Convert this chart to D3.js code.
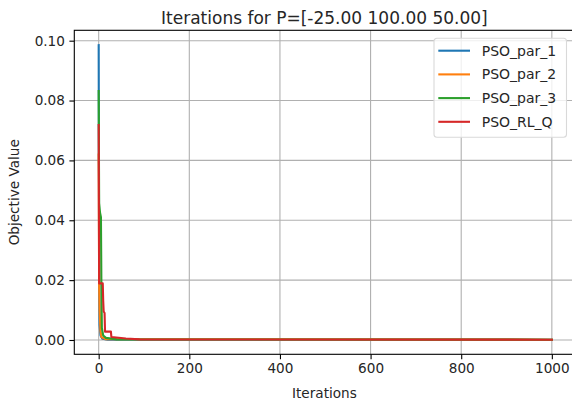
<!DOCTYPE html>
<html>
<head>
<meta charset="utf-8">
<script src="https://cdn.jsdelivr.net/npm/d3@7"></script>
<style>
  body { margin: 0; background: #fff; }
  svg { display: block; font-family: "DejaVu Sans", sans-serif; }
</style>
</head>
<body>
<div id="chart"></div>
<script>
// series names and colours (matplotlib tab10)
var seriesNames = ["PSO_par_1", "PSO_par_2", "PSO_par_3", "PSO_RL_Q"];
var colors = ["#1f77b4", "#ff7f0e", "#2ca02c", "#d62728"];

// iteration / objective value break points
var par1Iter = [0, 1, 2, 4, 8, 20, 1000];
var par1Vals = [0.0985, 0.020, 0.005, 0.0015, 0.0004, 0.0001, 0.0001];

var par2Iter = [0, 1, 2, 4, 6, 15, 1000];
var par2Vals = [0.062, 0.018, 0.010, 0.003, 0.001, 0.0003, 0.0001];

var par3Iter = [0, 1, 3, 5, 6, 7, 10, 16, 40, 1000];
var par3Vals = [0.0832, 0.0457, 0.0425, 0.041, 0.018, 0.004, 0.0015, 0.0007, 0.0002, 0.0001];

var rlIter = [0, 1, 9, 10, 11, 13, 14, 27, 28, 60, 90, 1000];
var rlVals = [0.0718, 0.0189, 0.0189, 0.013, 0.0095, 0.009, 0.0028, 0.0028, 0.001, 0.0005, 0.0002, 0.0001];

var xTicks = [0, 200, 400, 600, 800, 1000];
var yTicks = [0.00, 0.02, 0.04, 0.06, 0.08, 0.10];

var title = "Iterations for P=[-25.00 100.00 50.00]";

function draw(){
    var width = 572, height = 401;
    var margin = {top: 30.3, right: -2.5, bottom: 46.7, left: 74.3};
    var w = width - margin.left - margin.right,
        h = height - margin.top - margin.bottom;

    var series = [
        {name: seriesNames[0], iter: par1Iter, vals: par1Vals},
        {name: seriesNames[1], iter: par2Iter, vals: par2Vals},
        {name: seriesNames[2], iter: par3Iter, vals: par3Vals},
        {name: seriesNames[3], iter: rlIter, vals: rlVals}
    ];
    series.forEach(function(s, i){
        s.color = colors[i];
        s.points = s.iter.map(function(d, j){ return [d, s.vals[j]]; });
    });

    var svg = d3.select("#chart")
        .append("svg")
            .attr("width", width)
            .attr("height", height);

    var g = svg.append("g")
        .attr("transform", "translate(" + margin.left + "," + margin.top + ")");

    // X scale, matplotlib style padding
    var x = d3.scaleLinear()
        .domain([-53.8, 1050])
        .range([0, w]);

    var y = d3.scaleLinear()
        .domain([-0.00478, 0.10347])
        .range([h, 0]);

    // grid
    g.append("g")
        .selectAll("line")
        .data(xTicks)
        .enter()
        .append("line")
            .attr("x1", function(d){ return x(d); })
            .attr("x2", function(d){ return x(d); })
            .attr("y1", 0)
            .attr("y2", h)
            .attr("stroke", "#b0b0b0")
            .attr("stroke-width", 1.1);
    g.append("g")
        .selectAll("line")
        .data(yTicks)
        .enter()
        .append("line")
            .attr("x1", 0)
            .attr("x2", w)
            .attr("y1", function(d){ return y(d); })
            .attr("y2", function(d){ return y(d); })
            .attr("stroke", "#b0b0b0")
            .attr("stroke-width", 1.1);

    // lines
    var line = d3.line()
        .x(function(d){ return x(d[0]); })
        .y(function(d){ return y(d[1]); });

    g.selectAll(".series")
        .data(series)
        .enter()
        .append("path")
            .attr("class", "series")
            .attr("d", function(d){ return line(d.points); })
            .attr("fill", "none")
            .attr("stroke", function(d){ return d.color; })
            .attr("stroke-width", 2.1)
            .attr("stroke-linejoin", "round")
            .attr("stroke-linecap", "square");

    // axes
    var xAxis = g.append("g")
        .attr("transform", "translate(0," + h + ")")
        .call(d3.axisBottom(x).tickValues(xTicks).tickSize(4.9).tickPadding(4.5).tickFormat(d3.format("d")));
    var yAxis = g.append("g")
        .call(d3.axisLeft(y).tickValues(yTicks).tickSize(4.9).tickPadding(4.5).tickFormat(d3.format(".2f")));

    [xAxis, yAxis].forEach(function(a){
        a.select(".domain").remove();
        a.selectAll(".tick line").attr("stroke", "#000").attr("stroke-width", 1.1);
        a.selectAll(".tick text")
            .attr("fill", "#262626")
            .style("font-size", "13.6px")
            .style("font-family", "DejaVu Sans");
    });

    // spines
    g.append("rect")
        .attr("x", 0)
        .attr("y", 0)
        .attr("width", w)
        .attr("height", h)
        .attr("fill", "none")
        .attr("stroke", "#000")
        .attr("stroke-width", 1.1);

    // title and labels
    svg.append("text")
        .attr("x", margin.left + w / 2)
        .attr("y", 24)
        .attr("text-anchor", "middle")
        .style("font-size", "17px")
        .attr("fill", "#262626")
        .text(title);

    svg.append("text")
        .attr("x", margin.left + w / 2)
        .attr("y", 398)
        .attr("text-anchor", "middle")
        .style("font-size", "13.6px")
        .attr("fill", "#262626")
        .text("Iterations");

    svg.append("text")
        .attr("transform", "translate(19," + (margin.top + h / 2) + ") rotate(-90)")
        .attr("text-anchor", "middle")
        .style("font-size", "13.6px")
        .attr("fill", "#262626")
        .text("Objective Value");

    // legend
    var legend = svg.append("g")
        .attr("transform", "translate(434,38.3)");
    legend.append("rect")
        .attr("width", 132.5)
        .attr("height", 99)
        .attr("rx", 3)
        .attr("fill", "#fff")
        .attr("fill-opacity", 0.8)
        .attr("stroke", "#d9d9d9")
        .attr("stroke-width", 1.1);
    var items = legend.selectAll(".item")
        .data(series)
        .enter()
        .append("g")
            .attr("class", "item")
            .attr("transform", function(d, i){ return "translate(0," + (12.4 + i * 23.7) + ")"; });
    items.append("line")
        .attr("x1", 4.3)
        .attr("x2", 36)
        .attr("stroke", function(d){ return d.color; })
        .attr("stroke-width", 2.1);
    items.append("text")
        .attr("x", 47.7)
        .attr("dy", "0.35em")
        .style("font-size", "14px")
        .attr("fill", "#262626")
        .text(function(d){ return d.name; });
}

draw();
</script>
</body>
</html>
